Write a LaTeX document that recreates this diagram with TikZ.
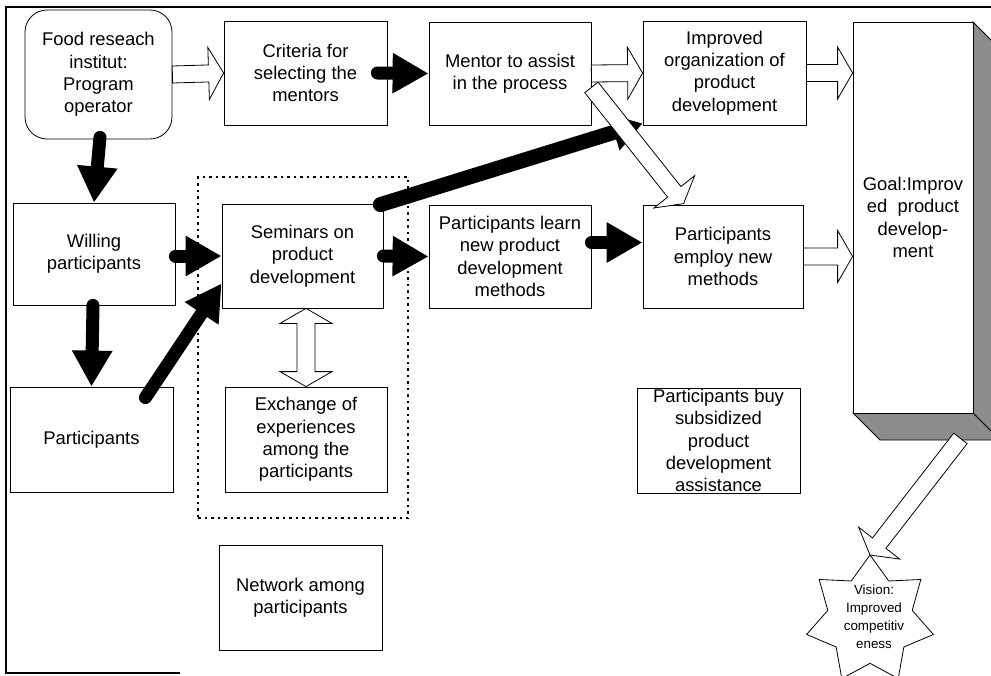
\documentclass[tikz,border=0pt]{standalone}
\usepackage{fontspec}
\setmainfont{Liberation Sans}
\usetikzlibrary{arrows.meta,calc}

\tikzset{
 box/.style={draw, line width=0.8pt, align=center, inner sep=0pt, font=\fontsize{18.4}{22.3}\selectfont},
 blk/.style={line width=13pt, line cap=round, -{Triangle[width=38pt,length=36pt]}},
 blkthin/.style={line width=15pt, line cap=round, -{Triangle[width=36pt,length=30pt]}},
 hol/.style={draw, fill=white, line width=0.8pt, line join=miter},
 shade3d/.style={draw, line width=0.8pt, fill=black!45},
 frame/.style={line width=1.2pt},
 grp/.style={draw, line width=1.2pt, dash pattern=on 2.5pt off 4pt},
}

\newcommand\harrow[2]{%
 \draw[hol] let \p1=#1, \p2=#2, \n1={atan2(\y2-\y1,\x2-\x1)}, \n2={veclen(\x2-\x1,\y2-\y1)-15} in
 ($(\p1)+(\n1+90:8.5pt)$) -- ($(\p1)+(\n1:{\n2*1pt})+(\n1+90:8.5pt)$) -- ($(\p1)+(\n1:{\n2*1pt})+(\n1+90:26pt)$) -- (\p2) -- ($(\p1)+(\n1:{\n2*1pt})+(\n1-90:26pt)$) -- ($(\p1)+(\n1:{\n2*1pt})+(\n1-90:8.5pt)$) -- ($(\p1)+(\n1-90:8.5pt)$) -- cycle;}

\newcommand\hdarrow[2]{%
 \draw[hol] let \p1=#1, \p2=#2, \n1={atan2(\y2-\y1,\x2-\x1)}, \n2={veclen(\x2-\x1,\y2-\y1)-15} in
 (\p1) -- ($(\p1)+(\n1:15pt)+(\n1+90:26pt)$) -- ($(\p1)+(\n1:15pt)+(\n1+90:9pt)$) -- ($(\p1)+(\n1:{\n2*1pt})+(\n1+90:9pt)$) -- ($(\p1)+(\n1:{\n2*1pt})+(\n1+90:26pt)$) -- (\p2) -- ($(\p1)+(\n1:{\n2*1pt})+(\n1-90:26pt)$) -- ($(\p1)+(\n1:{\n2*1pt})+(\n1-90:9pt)$) -- ($(\p1)+(\n1:15pt)+(\n1-90:9pt)$) -- ($(\p1)+(\n1:15pt)+(\n1-90:26pt)$) -- cycle;}

\begin{document}
\begin{tikzpicture}[x=1pt,y=-1pt]
\useasboundingbox (0,0) rectangle (991,675);
\clip (0,0) rectangle (991,675);
\fill[white] (0,0) rectangle (991,675);

% frame
\draw[frame] (5,7) -- (991,7);
\draw[frame] (6,7) -- (6,673) -- (180,673);

% nodes
\node[box, rounded corners=22pt, minimum width=147pt, minimum height=129pt] (food) at (98.5,74.5) {Food reseach\\institut:\\Program\\operator};
\node[box, minimum width=163pt, minimum height=104pt] (criteria) at (305.5,73) {Criteria for\\selecting the\\mentors};
\node[box, minimum width=162pt, minimum height=103pt] (mentor) at (510,73.5) {Mentor to assist\\in the process};
\node[box, minimum width=163pt, minimum height=104pt] (improved) at (724.5,73) {Improved\\organization of\\product\\development};

\node[grp, minimum width=210pt, minimum height=341pt] (group) at (303,347.5) {};

\node[box, minimum width=162pt, minimum height=102pt] (willing) at (94,254) {Willing\\participants};
\node[box, minimum width=161pt, minimum height=104pt] (seminars) at (302.5,256) {Seminars on\\product\\development};
\node[box, minimum width=162pt, minimum height=103pt] (learn) at (510,256.5) {Participants learn\\new product\\development\\methods};
\node[box, minimum width=160pt, minimum height=103pt] (employ) at (723,256.5) {Participants\\employ new\\methods};
\node[box, minimum width=163pt, minimum height=105pt] (parts) at (91.5,439.5) {Participants};
\node[box, minimum width=162pt, minimum height=105pt] (exchange) at (306,439.5) {Exchange of\\experiences\\among the\\participants};
\node[box, minimum width=163pt, minimum height=105pt] (buy) at (718.5,440.5) {Participants buy\\subsidized\\product\\development\\assistance};
\node[box, minimum width=163pt, minimum height=105pt] (network) at (300.5,597.5) {Network among\\participants};

% goal 3D box
\draw[shade3d] ($(913,217.5)+(60,-195.5)$) -- ++(27,27) -- ++(0,391) -- ++(-27,-27) -- cycle;
\draw[shade3d] ($(913,217.5)+(-60,195.5)$) -- ++(120,0) -- ++(27,27) -- ++(-120,0) -- cycle;
\node[box, fill=white, minimum width=120pt, minimum height=391pt] (goal) at (913,217.5) {Goal:Improv\\ed\ \ product\\develop-\\ment};

% star (7 points)
\draw[shift={(870,620)}, line width=0.8pt, fill=white] (90:65pt) \foreach \i in {1,...,13} { -- ({90+\i*360/14}:{ifthenelse(mod(\i,2)==0,65,43.3)*1pt}) } -- cycle;
\coordinate (startop) at (870,555);
\node[align=center, inner sep=0pt, font=\fontsize{13.4}{18}\selectfont] (vision) at (874,617) {Vision:\\Improved\\competitiv\\eness};

% black arrows
\draw[blk] ($(food.south)+(1.5,-2)$) -- (willing.north);
\draw[blk] ($(willing.south)+(-1,0)$) -- (parts.north);
\draw[blk] (willing.east |- seminars.west) -- (seminars.west);
\draw[blk] ($(parts.north east)+(-28,11)$) -- ($(seminars.south west)+(0,-25)$);
\draw[blk] ($(criteria.east)+(-10,0)$) -- (mentor.west);
\draw[blk] (seminars.east) -- (learn.west);
\draw[blk] ($(learn.east)+(0,-14)$) -- ($(employ.west)+(0,-14)$);
\draw[blkthin] ($(seminars.north east)+(-3,1)$) -- ($(improved.south west)+(0,-2)$);

% hollow arrows
\harrow{(food.east)}{(criteria.west)}
\harrow{(mentor.east)}{(improved.west)}
\harrow{(improved.east)}{(goal.west |- improved.east)}
\harrow{(employ.east)}{(goal.west |- employ.east)}
\harrow{($(mentor.south east)+(0,-38)$)}{($(employ.north west)+(41,-1)$)}
\hdarrow{(seminars.south -| exchange.north)}{(exchange.north)}
\coordinate (goalout) at ($(goal.south east)+(-13,25)$);
\harrow{(goalout)}{(startop)}
\end{tikzpicture}
\end{document}
